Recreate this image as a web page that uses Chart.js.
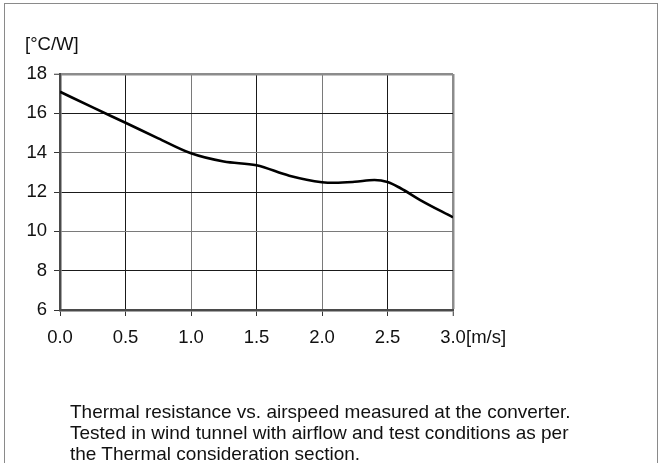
<!DOCTYPE html>
<html>
<head>
<meta charset="utf-8">
<script src="https://cdn.jsdelivr.net/npm/chart.js@4/dist/chart.umd.min.js"></script>
<style>
  html, body { margin: 0; padding: 0; background: #fff; }
  body { width: 659px; height: 463px; position: relative; overflow: hidden;
         font-family: "Liberation Sans", Arial, Helvetica, sans-serif; color: #111; }
  #frame { position: absolute; left: 4px; top: 3px; width: 652px; height: 480px; border: 1px solid #8a8a8a; }
  #wrap { position: absolute; left: 0; top: 0; width: 659px; height: 463px; }
  .txt { position: absolute; font-size: 18.5px; white-space: nowrap; line-height: 21px; }
  #unitY { left: 25px; top: 33px; }
  #unitX { left: 466px; top: 326px; }
  #caption { left: 70px; top: 401px; line-height: 21px; font-size: 19px; }
</style>
</head>
<body>
<div id="frame"></div>
<div id="wrap"><canvas id="chart" width="659" height="463"></canvas></div>
<div class="txt" id="unitY">[°C/W]</div>
<div class="txt" id="unitX">[m/s]</div>
<div class="txt" id="caption">Thermal resistance vs. airspeed measured at the converter.<br>Tested in wind tunnel with airflow and test conditions as per<br>the Thermal consideration section.</div>

<script>
// airspeed [m/s] and thermal resistance [°C/W]
const airspeed = [0, 0.25, 0.5, 0.75, 1.0, 1.25, 1.5, 1.75, 2.0, 2.1, 2.25, 2.4, 2.5, 2.6, 2.75, 3.0]
const resistance = [17.1, 16.3, 15.52, 14.73, 13.97, 13.55, 13.36, 12.83, 12.5, 12.47, 12.52, 12.61, 12.51, 12.19, 11.59, 10.71]

const xTicks = [0, 0.5, 1.0, 1.5, 2.0, 2.5, 3.0]
const yTicks = [6, 8, 10, 12, 14, 16, 18]

const points = airspeed.map((x, i) => ({ x, y: resistance[i] }))

// gridline look: the picture alternates dark and grey lines, edges are grey frames
const xGridColor = (v) => (v === 3 ? '#8c8c8c' : (v * 2) % 2 === 1 ? '#1a1a1a' : '#7a7a7a')
const yGridColor = (v) => (v === 18 ? '#8c8c8c' : v % 4 === 0 ? '#1a1a1a' : '#7a7a7a')

const font = { family: '"Liberation Sans", Arial, Helvetica, sans-serif', size: 18.5 }

new Chart(document.getElementById('chart'), {
  type: 'line',
  data: {
    datasets: [{
      data: points,
      borderColor: '#000',
      borderWidth: 2.6,
      pointRadius: 0,
      cubicInterpolationMode: 'monotone',
      fill: false
    }]
  },
  options: {
    responsive: false,
    animation: false,
    layout: { padding: { left: 0, top: 74, right: 206, bottom: 0 } },
    plugins: { legend: { display: false }, tooltip: { enabled: false } },
    scales: {
      x: {
        type: 'linear',
        min: 0,
        max: 3,
        afterBuildTicks: (s) => { s.ticks = xTicks.map(v => ({ value: v })) },
        afterFit: (s) => { s.height = 153 },
        border: { color: '#4a4a4a', width: 2.5 },
        grid: {
          color: (c) => xGridColor(c.tick.value),
          lineWidth: (c) => (c.tick.value === 3 ? 2.5 : 1),
          drawTicks: true,
          tickLength: 6,
          tickColor: '#333',
          tickWidth: 1
        },
        ticks: {
          color: '#111',
          font,
          padding: 11,
          maxRotation: 0,
          callback: (v) => v.toFixed(1)
        }
      },
      y: {
        min: 6,
        max: 18,
        afterBuildTicks: (s) => { s.ticks = yTicks.map(v => ({ value: v })) },
        afterFit: (s) => { s.width = 60 },
        border: { color: '#4a4a4a', width: 2.5 },
        grid: {
          color: (c) => yGridColor(c.tick.value),
          lineWidth: (c) => (c.tick.value === 18 ? 2.5 : 1),
          drawTicks: true,
          tickLength: 6,
          tickColor: '#333',
          tickWidth: 1
        },
        ticks: {
          color: '#111',
          font,
          padding: 7
        }
      }
    }
  }
})
</script>
</body>
</html>
